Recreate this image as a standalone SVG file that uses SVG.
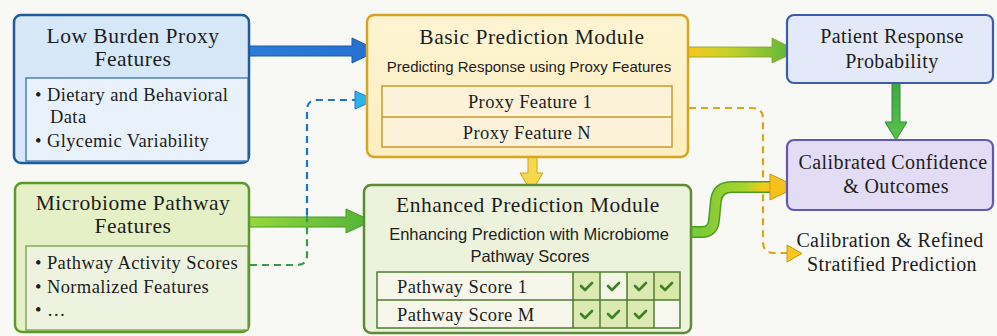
<svg xmlns="http://www.w3.org/2000/svg" width="997" height="336" viewBox="0 0 997 336">
<style>
text{font-family:"Liberation Serif","Times New Roman",serif;fill:#1d1d1d}
.t{font-size:21.5px;letter-spacing:0.5px;text-anchor:middle}
.b{font-size:18.5px;letter-spacing:0.4px}
.bc{font-size:18.5px;letter-spacing:0.4px;text-anchor:middle}
.r{font-size:20px;letter-spacing:0.4px;text-anchor:middle}
.s{font-family:"Liberation Sans",Arial,sans-serif;font-size:15px;text-anchor:middle}
.ck{fill:none;stroke:#3f7f27;stroke-width:2.6;stroke-linecap:round;stroke-linejoin:round}
.dash{fill:none;stroke-width:2.2;stroke-dasharray:7 5}
</style>
<defs>
<linearGradient id="gBlue" x1="0" y1="0" x2="1" y2="0"><stop offset="0" stop-color="#2c7dd8"/><stop offset="1" stop-color="#2470d2"/></linearGradient>
<linearGradient id="gGreen" x1="0" y1="0" x2="1" y2="0"><stop offset="0" stop-color="#96d83c"/><stop offset="1" stop-color="#52b23a"/></linearGradient>
<linearGradient id="gYG" x1="688" y1="0" x2="798" y2="0" gradientUnits="userSpaceOnUse"><stop offset="0" stop-color="#f6c81a"/><stop offset="0.35" stop-color="#c9d22a"/><stop offset="1" stop-color="#52b43c"/></linearGradient>
<linearGradient id="gGY" x1="700" y1="0" x2="790" y2="0" gradientUnits="userSpaceOnUse"><stop offset="0" stop-color="#7ccb36"/><stop offset="0.5" stop-color="#a9d42e"/><stop offset="0.7" stop-color="#f4c81c"/><stop offset="1" stop-color="#f4c01a"/></linearGradient>
<linearGradient id="gDown" x1="0" y1="0" x2="0" y2="1"><stop offset="0" stop-color="#3ea845"/><stop offset="1" stop-color="#5cc04a"/></linearGradient>
<linearGradient id="gBasic" x1="0" y1="0" x2="0" y2="1"><stop offset="0" stop-color="#fdf4d2"/><stop offset="1" stop-color="#fbeebf"/></linearGradient>
</defs>
<rect width="997" height="336" fill="#f8f8f5"/>

<g id="connectors">
<!-- blue arrow -->
<polygon points="249,46 352,46 352,38 378,50.5 352,63 352,56 249,56" fill="url(#gBlue)" stroke="#1a5aa8" stroke-width="1"/>
<!-- green arrow -->
<polygon points="249,217 346,217 346,209 372,221 346,233 346,227 249,227" fill="url(#gGreen)" stroke="#4a9a2a" stroke-width="1"/>
<!-- dashed microbiome to basic -->
<path class="dash" d="M250,265 H297 Q307,265 307,255 V215" stroke="#3a9a4c"/>
<path class="dash" d="M307,215 V110 Q307,100 317,100 H357" stroke="#1f74c8"/>
<polygon points="355,91 375,100 355,109" fill="#2fb2ea" stroke="#1a7ec0" stroke-width="1"/>
<!-- yellow down arrow -->
<polygon points="528,157 537,157 537,173 543,173 531.5,192 520,173 528,173" fill="#f7d84a" stroke="#d0a323" stroke-width="1"/>
<!-- basic to patient -->
<polygon points="688,47 772,47 772,38 798,51 772,63 772,57 688,57" fill="url(#gYG)" stroke="#8aa028" stroke-width="0.8"/>
<!-- patient to calibrated -->
<polygon points="892,83 900,83 900,122 907,122 896,140 885,122 892,122" fill="url(#gDown)" stroke="#2f8a3a" stroke-width="1"/>
<!-- yellow dashed -->
<path class="dash" d="M689,108 H752 Q763,108 763,119 V242 Q763,253 774,253 H788" stroke="#d4a820"/>
<polygon points="787,245 802,253.5 787,262" fill="#f5c520" stroke="#c99a1a" stroke-width="1"/>
<!-- curved enhanced to calibrated -->
<path d="M690,232 H702 Q713,232 714,220 L716,200 Q718,187 732,187 H772" fill="none" stroke="#4f9a26" stroke-width="12"/>
<path d="M690,232 H702 Q713,232 714,220 L716,200 Q718,187 732,187 H773" fill="none" stroke="url(#gGY)" stroke-width="9"/>
<polygon points="770,174 797,187 770,200" fill="#f5c21c" stroke="#c9961a" stroke-width="1"/>
</g>

<g id="low-burden">
<rect x="14" y="15" width="235" height="148" rx="7" fill="#d6e8f8" stroke="#1f5c9e" stroke-width="2.5"/>
<rect x="26" y="78" width="222" height="83" fill="#e9f2fb" stroke="#2a64a4" stroke-width="1.2"/>
<text class="t" x="133" y="43">Low Burden Proxy</text>
<text class="t" x="133" y="66">Features</text>
<text class="b" x="35" y="101">• Dietary and Behavioral</text>
<text class="b" x="50" y="123">Data</text>
<text class="b" x="35" y="147">• Glycemic Variability</text>
</g>

<g id="microbiome">
<rect x="15" y="183" width="234" height="149" rx="7" fill="#e5f0c6" stroke="#5c9a2c" stroke-width="2.5"/>
<rect x="26" y="246" width="222" height="84" fill="#eef3df" stroke="#6a9a3a" stroke-width="1.2"/>
<text class="t" x="133" y="210">Microbiome Pathway</text>
<text class="t" x="133" y="233">Features</text>
<text class="b" x="35" y="269">• Pathway Activity Scores</text>
<text class="b" x="35" y="293">• Normalized Features</text>
<text class="b" x="35" y="316">• …</text>
</g>

<g id="basic">
<rect x="367" y="15" width="321" height="142" rx="7" fill="url(#gBasic)" stroke="#d6a521" stroke-width="2.5"/>
<rect x="382" y="86" width="290" height="61" fill="#fbf2d9" stroke="#c99a2a" stroke-width="1.5"/>
<line x1="382" y1="117" x2="672" y2="117" stroke="#c99a2a" stroke-width="1.5"/>
<text class="t" x="532" y="44">Basic Prediction Module</text>
<text class="s" x="529" y="72">Predicting Response using Proxy Features</text>
<text class="bc" x="530" y="108">Proxy Feature 1</text>
<text class="bc" x="527" y="139">Proxy Feature N</text>
</g>

<g id="enhanced">
<rect x="364" y="185" width="327" height="148" rx="7" fill="#edf2dc" stroke="#5d8c35" stroke-width="2.5"/>
<text class="t" x="528" y="212">Enhanced Prediction Module</text>
<text class="s" x="529" y="240" style="font-size:16.5px">Enhancing Prediction with Microbiome</text>
<text class="s" x="530" y="262" style="font-size:16.5px">Pathway Scores</text>
<rect x="377" y="272" width="196" height="56" fill="#f6f7ea"/>
<rect x="573" y="272" width="27" height="28" fill="#dce9b2"/>
<rect x="600" y="272" width="27" height="28" fill="#f3f5e6"/>
<rect x="627" y="272" width="27" height="28" fill="#dce9b2"/>
<rect x="654" y="272" width="26" height="28" fill="#d8e8a6"/>
<rect x="573" y="300" width="27" height="28" fill="#dce9b2"/>
<rect x="600" y="300" width="27" height="28" fill="#dce9b2"/>
<rect x="627" y="300" width="27" height="28" fill="#dce9b2"/>
<rect x="654" y="300" width="26" height="28" fill="#f6f7ee"/>
<g fill="none" stroke="#4f7d2e" stroke-width="1.5">
<rect x="377" y="272" width="303" height="56"/>
<line x1="377" y1="300" x2="680" y2="300"/>
<line x1="573" y1="272" x2="573" y2="328"/>
<line x1="600" y1="272" x2="600" y2="328"/>
<line x1="627" y1="272" x2="627" y2="328"/>
<line x1="654" y1="272" x2="654" y2="328"/>
</g>
<text class="b" x="397" y="293">Pathway Score 1</text>
<text class="b" x="397" y="321">Pathway Score M</text>
<path class="ck" d="M581,286 l4,4 l7,-7"/>
<path class="ck" d="M608,286 l4,4 l7,-7"/>
<path class="ck" d="M635,286 l4,4 l7,-7"/>
<path class="ck" d="M661,286 l4,4 l7,-7"/>
<path class="ck" d="M581,314 l4,4 l7,-7"/>
<path class="ck" d="M608,314 l4,4 l7,-7"/>
<path class="ck" d="M635,314 l4,4 l7,-7"/>
</g>

<g id="patient">
<rect x="787" y="15" width="206" height="68" rx="7" fill="#e3e9f8" stroke="#3d5cae" stroke-width="2.2"/>
<text class="r" x="892" y="43">Patient Response</text>
<text class="r" x="892" y="68">Probability</text>
</g>

<g id="calibrated">
<rect x="787" y="140" width="206" height="70" rx="7" fill="#e2ddf5" stroke="#6656b3" stroke-width="2.2"/>
<text class="r" x="893" y="169">Calibrated Confidence</text>
<text class="r" x="896" y="193">&amp; Outcomes</text>
</g>

<g id="calibration-label">
<text class="r" x="890" y="247">Calibration &amp; Refined</text>
<text class="r" x="892" y="271">Stratified Prediction</text>
</g>
</svg>
